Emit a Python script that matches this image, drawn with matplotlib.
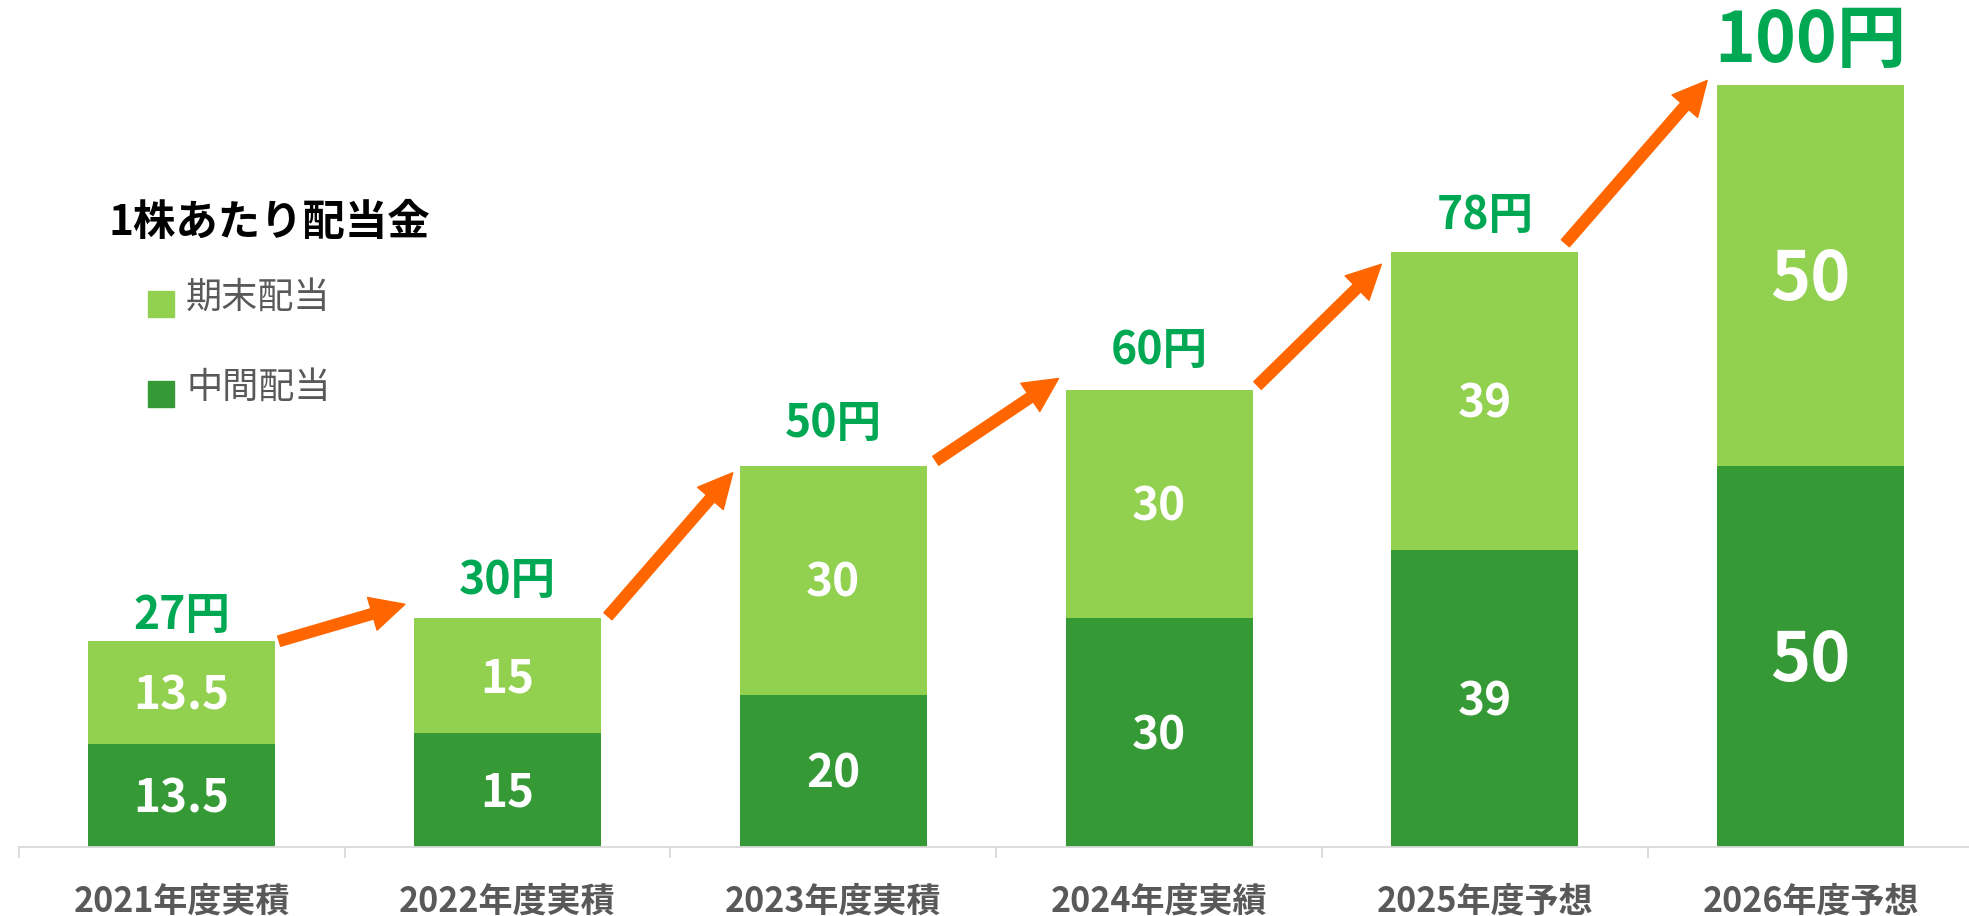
import numpy as np
import matplotlib
matplotlib.use("Agg")
import matplotlib.pyplot as plt
from matplotlib.patches import FancyArrowPatch, Rectangle, ArrowStyle

plt.rcParams['font.family'] = ['Noto Sans CJK JP', 'DejaVu Sans']

# ---- data ----
categories = ['2021年度実積', '2022年度実積', '2023年度実積', '2024年度実績', '2025年度予想', '2026年度予想']
interim = [13.5, 15, 20, 30, 39, 50]      # 中間配当
year_end = [13.5, 15, 30, 30, 39, 50]     # 期末配当
totals = [27, 30, 50, 60, 78, 100]
legend_title = '1株あたり配当金'
series_names = ['期末配当', '中間配当']

# ---- styles ----
LIGHT = '#92D050'
DARK = '#359A35'
LABEL_GREEN = '#00A854'
ORANGE = '#FF6600'
GRAY = '#595959'
AXIS_GRAY = '#D9D9D9'

W, H = 1969, 916
fig = plt.figure(figsize=(W / 100, H / 100), dpi=100)

ax_left_px, ax_bottom_px = 18.75, 69
ax_w_px, ax_h_px = 1954.8, 847
px_per_unit = 7.625
ax = fig.add_axes([ax_left_px / W, ax_bottom_px / H, ax_w_px / W, ax_h_px / H])
ax.set_xlim(-0.5, 5.5)
ax.set_ylim(0, ax_h_px / px_per_unit)
ppx = ax_w_px / 6.0   # pixels per category

x = np.arange(len(categories))
bw = 0.574
ax.bar(x, interim, width=bw, color=DARK, zorder=2)
ax.bar(x, year_end, width=bw, bottom=interim, color=LIGHT, zorder=2)

for s in ['top', 'right', 'left']:
    ax.spines[s].set_visible(False)
ax.spines['bottom'].set_color(AXIS_GRAY)
ax.spines['bottom'].set_linewidth(1.3)
ax.set_yticks([])
ax.set_xticks(x)
ax.set_xticklabels(categories, fontsize=24.5, fontweight='bold', color=GRAY)
ax.tick_params(axis='x', which='major', length=0, pad=26)
ax.set_xticks(np.arange(-0.5, 6.0, 1.0), minor=True)
ax.tick_params(axis='x', which='minor', length=8, width=1.3, color=AXIS_GRAY, direction='out')

def px2pt(px):
    return px * 72.0 / 100.0

# inside segment labels
for i in range(len(x)):
    big = (i == len(x) - 1)
    fs = 49 if big else 33
    em_px = fs * 100 / 72
    for bottom, val in ((0, interim[i]), (interim[i], year_end[i])):
        cy = bottom + val / 2.0
        base = cy - 0.366 * em_px / px_per_unit
        ax.text(x[i], base, f'{val:g}', ha='center', va='baseline', color='white',
                fontsize=fs, fontweight='bold', zorder=3)

# total labels
label_gap_px = [12, 24, 29, 26, 23, 23]
for i, t in enumerate(totals):
    fs = 50 if i == len(totals) - 1 else 32
    ax.text(x[i], t + label_gap_px[i] / px_per_unit, f'{t}円', ha='center', va='baseline',
            color=LABEL_GREEN, fontsize=fs, fontweight='bold', zorder=3)

# arrows between bars
tail_off = [(4, 0), (7, 2), (9, 5), (5, 4), (-13, 9)]
tip_off = [(-9, 14), (-7, -7), (-7, 11), (-10, -12), (-10, 4)]
style = ArrowStyle('Simple', head_length=px2pt(34), head_width=px2pt(34), tail_width=px2pt(10.7))
for i in range(len(totals) - 1):
    ta = (x[i] + bw / 2 + tail_off[i][0] / ppx, totals[i] + tail_off[i][1] / px_per_unit)
    tb = (x[i + 1] - bw / 2 + tip_off[i][0] / ppx, totals[i + 1] + tip_off[i][1] / px_per_unit)
    arr = FancyArrowPatch(ta, tb, arrowstyle=style, mutation_scale=1, color=ORANGE,
                          shrinkA=0, shrinkB=0, zorder=4, clip_on=False)
    ax.add_patch(arr)

# legend (manual)
def fx(px):
    return px / W

def fy(py):
    return 1 - py / H

fig.text(fx(108), fy(223), legend_title, fontsize=30.5, fontweight='bold', color='black',
         ha='left', va='center')
sq = 26
for (sy, ty, col, name) in ((291, 298, LIGHT, series_names[0]), (381, 388, DARK, series_names[1])):
    fig.add_artist(Rectangle((fx(147.7), fy(sy + sq)), sq / W, sq / H, transform=fig.transFigure,
                             color=col))
    fig.text(fx(186), fy(ty), name, fontsize=26, color=GRAY, ha='left', va='center')

fig.savefig('out.png', dpi=100)
